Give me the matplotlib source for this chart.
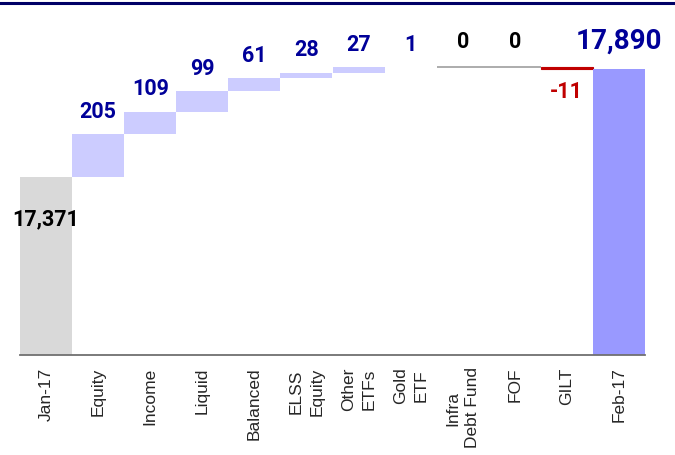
import matplotlib

matplotlib.use("Agg")  # headless
import matplotlib.pyplot as plt
from matplotlib.lines import Line2D

# --- data
categories = ["Jan-17", "Equity", "Income", "Liquid", "Balanced", "ELSS\nEquity",
              "Other\nETFs", "Gold\nETF", "Infra\nDebt Fund", "FOF", "GILT", "Feb-17"]
start_value = 17371
changes = [205, 109, 99, 61, 28, 27, 1, 0, 0, -11]
end_value = 17890

NAVY = "#000099"
RED = "#c00000"
START_C = "#d9d9d9"
STEP_C = "#ccccff"
END_C = "#9999ff"

fig = plt.figure(figsize=(6.75, 4.55), dpi=100)
ax = fig.add_axes([20 / 675, 100 / 455, 625 / 675, 335 / 455])

x = list(range(len(categories)))

# start bar
ax.bar(x[0], start_value, width=1.0, color=START_C)
ax.annotate(f"{start_value:,}", (x[0], start_value), xytext=(0, -31),
            textcoords="offset points", ha="center", va="center",
            fontsize=15.5, fontweight="bold", family="Roboto", color="black")

# steps
level = start_value
for i, ch in enumerate(changes, start=1):
    if ch > 0:
        ax.bar(x[i], ch, bottom=level, width=1.0, color=STEP_C)
        ax.annotate(f"{ch:,}", (x[i], level + ch), xytext=(0, 8),
                    textcoords="offset points", ha="center", va="bottom",
                    fontsize=15.5, fontweight="bold", family="Roboto", color=NAVY)
    elif ch < 0:
        ax.bar(x[i], ch, bottom=level, width=1.0, color=RED,
               edgecolor=RED, linewidth=0.8)
        ax.annotate(f"{ch:,}", (x[i], level + ch), xytext=(0, -9),
                    textcoords="offset points", ha="center", va="top",
                    fontsize=15.5, fontweight="bold", family="Roboto", color=RED)
    else:
        ax.hlines(level, x[i] - 0.5, x[i] + 0.5, color="#a6a6a6", lw=1.3)
        ax.annotate("0", (x[i], level), xytext=(0, 10),
                    textcoords="offset points", ha="center", va="bottom",
                    fontsize=15.5, fontweight="bold", family="Roboto", color="black")
    level += ch

# end bar
ax.bar(x[-1], end_value, width=1.0, color=END_C)
ax.annotate(f"{end_value:,}", (x[-1], end_value), xytext=(0, 10),
            textcoords="offset points", ha="center", va="bottom",
            fontsize=20, fontweight="bold", family="Roboto", color=NAVY)

ax.set_xlim(-0.5, len(categories) - 0.5)
ax.set_ylim(16512, 18126)

for side in ["top", "right", "left"]:
    ax.spines[side].set_visible(False)
ax.spines["bottom"].set_color("#707070")
ax.spines["bottom"].set_linewidth(1.3)
ax.set_yticks([])
ax.set_xticks(x)
ax.set_xticklabels(categories, rotation=90, fontsize=12.5, family="Liberation Sans",
                   color="#262626", multialignment="center", linespacing=1.45)
ax.tick_params(axis="x", length=0, pad=9)

# dark rule across the top of the figure
fig.add_artist(Line2D([0, 1], [1 - 3 / 455, 1 - 3 / 455], color="#000066", lw=2.2))

fig.savefig("out.png", dpi=100)
plt.close(fig)
